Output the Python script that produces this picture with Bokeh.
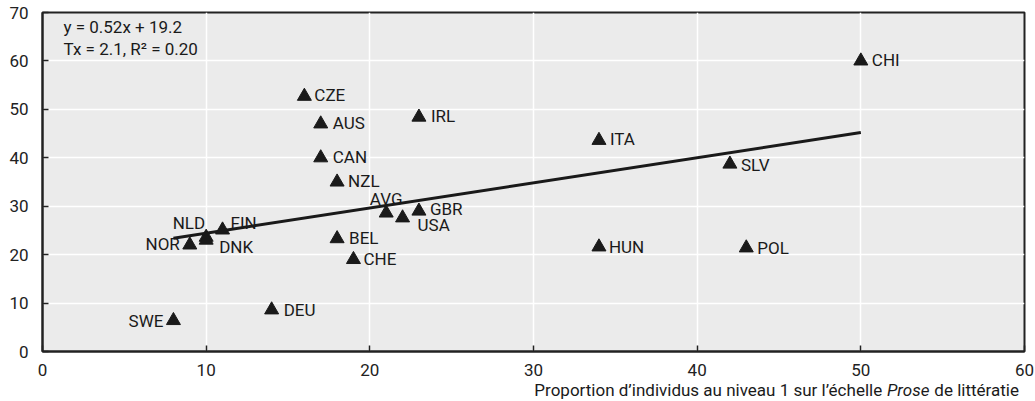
from bokeh.plotting import figure
from bokeh.layouts import column
from bokeh.models import Label, Range1d, FixedTicker, ColumnDataSource
from bokeh.core.properties import value
from bokeh.embed import file_html
from bokeh.resources import INLINE

FONT = "Roboto"
FS = "17px"

countries = ["CHI", "CZE", "AUS", "IRL", "ITA", "CAN", "NZL", "SLV", "AVG", "GBR", "USA",
             "FIN", "NLD", "DNK", "NOR", "BEL", "CHE", "HUN", "POL", "DEU", "SWE"]
prose_level1 = [50, 16, 17, 23, 34, 17, 18, 42, 21, 23, 22,
                11, 10, 10, 9, 18, 19, 34, 43, 14, 8]
y_values = [60, 52.7, 47, 48.4, 43.6, 40, 35, 38.7, 28.6, 29, 27.6,
            25.1, 23.6, 23, 22, 23.3, 19, 21.6, 21.4, 8.6, 6.4]

fit_x = [8, 50]
fit_y = [23.4, 45.2]

x_ticks = [0, 10, 20, 30, 40, 50, 60]
y_ticks = [0, 10, 20, 30, 40, 50, 60, 70]

x_title_parts = ["Proportion d\u2019individus au niveau 1 sur l\u2019\u00e9chelle", "Prose", "de litt\u00e9ratie"]

# label placement (screen px offsets, alignment)
lab_dx = [11, 10, 12, 12, 11, 12, 11, 11, 0, 11, 15, 8, -1, 13, -10, 12, 10, 10, 11, 12, -10]
lab_dy = [-1, -1, -1, -1, -1, -1, -1, 1, -14, -2, 7, -7, -14, 7, -1, -1, 0, 0, 0, 0, 0]
lab_align = ["left"] * 8 + ["center", "left", "left", "left", "right", "left", "right",
                            "left", "left", "left", "left", "left", "right"]

src = ColumnDataSource(dict(x=prose_level1, y=y_values, name=countries,
                            dx=lab_dx, dy=lab_dy, align=lab_align))

H_MAIN = 378
p = figure(width=1035, height=H_MAIN, output_backend="svg", toolbar_location=None,
           x_range=Range1d(0, 60), y_range=Range1d(0, 70),
           min_border_left=42, min_border_right=11, min_border_top=12, min_border_bottom=26)

p.background_fill_color = "#ebebeb"
p.border_fill_color = "white"
p.outline_line_color = "#222222"
p.outline_line_width = 2

for ax in (p.xaxis[0], p.yaxis[0]):
    ax.axis_line_color = "#222222"
    ax.axis_line_width = 2
    ax.major_tick_in = 6
    ax.major_tick_out = 0
    ax.major_tick_line_color = "#222222"
    ax.major_tick_line_width = 1.5
    ax.minor_tick_line_color = None
    ax.major_label_text_font = FONT
    ax.major_label_text_font_size = FS
    ax.major_label_text_color = "#222222"
p.xaxis[0].ticker = FixedTicker(ticks=x_ticks)
p.yaxis[0].ticker = FixedTicker(ticks=y_ticks)
p.xaxis[0].major_label_standoff = 12
p.yaxis[0].major_label_standoff = 14

p.xgrid[0].ticker = FixedTicker(ticks=x_ticks)
p.ygrid[0].ticker = FixedTicker(ticks=y_ticks)
p.grid.grid_line_color = "white"
p.grid.grid_line_width = 1.5

p.line(fit_x, fit_y, line_color="#1a1a1a", line_width=3)
p.scatter("x", "y", source=src, marker="triangle", size=14,
          fill_color="#1a1a1a", line_color="#1a1a1a")
p.text("x", "y", text="name", source=src, x_offset="dx", y_offset="dy",
       text_align="align", text_baseline="middle", text_font=value(FONT),
       text_font_size=FS, text_color="#1a1a1a")

for txt, yy in [("y = 0.52x + 19.2", 67.1), ("Tx = 2.1, R\u00b2 = 0.20", 62.4)]:
    p.add_layout(Label(x=1.28, y=yy, text=txt, text_font=FONT, text_font_size=FS,
                       text_color="#1a1a1a", text_baseline="middle", text_align="left"))

# x-axis title strip below the chart (pixel-like coordinates)
H_T = 401 - H_MAIN
t = figure(width=1035, height=H_T, output_backend="svg", toolbar_location=None,
           x_range=Range1d(0, 1035), y_range=Range1d(H_T, 0),
           x_axis_location=None, y_axis_location=None, min_border=0)
t.outline_line_color = None
t.background_fill_color = "white"
t.grid.visible = False
ty = 11
t.text([885], [ty], text=[x_title_parts[0]], text_align="right", text_baseline="middle",
       text_font=value(FONT), text_font_size=FS, text_color="#1a1a1a")
t.text([890], [ty], text=[x_title_parts[1]], text_align="left", text_baseline="middle",
       text_font=value(FONT), text_font_size=FS, text_font_style="italic", text_color="#1a1a1a")
t.text([940], [ty], text=[x_title_parts[2]], text_align="left", text_baseline="middle",
       text_font=value(FONT), text_font_size=FS, text_color="#1a1a1a")

layout = column(p, t, spacing=0)
open("out.html", "w").write(file_html(layout, INLINE))
